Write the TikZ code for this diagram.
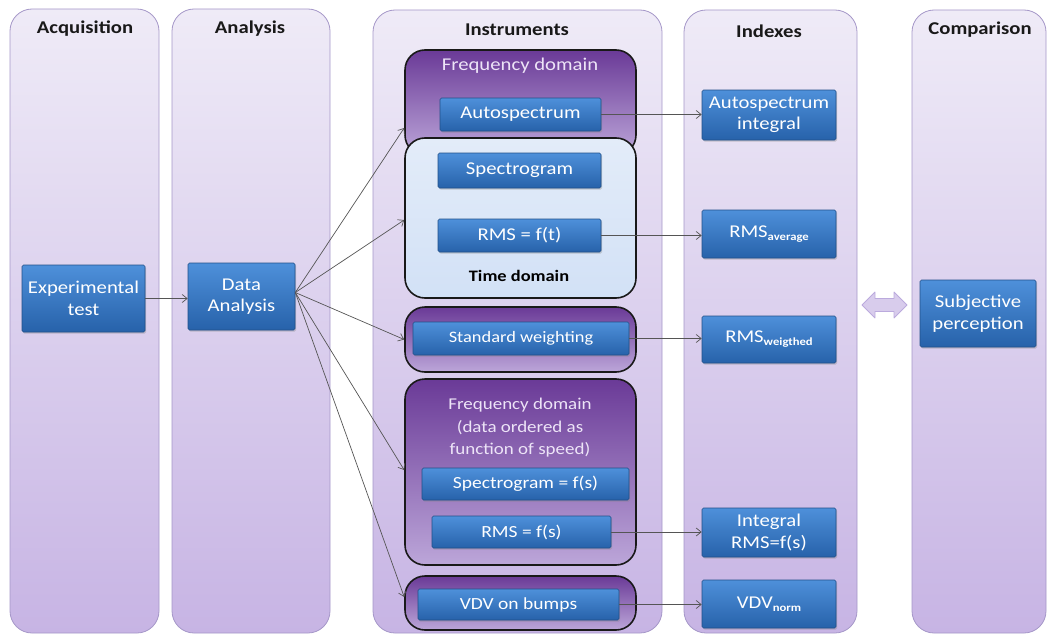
\documentclass[tikz,border=0pt]{standalone}
\usepackage{fontspec}
\setmainfont{Carlito}[FakeStretch=1.15]
\usetikzlibrary{arrows.meta,shadows}

\definecolor{laneTop}{HTML}{EFEBF7}
\definecolor{laneBot}{HTML}{C7B4E4}
\definecolor{laneLine}{HTML}{A597C8}
\definecolor{boxTop}{HTML}{4E90DA}
\definecolor{boxBot}{HTML}{2762AA}
\definecolor{boxLine}{HTML}{215089}
\definecolor{grpTop}{HTML}{6A3A97}
\definecolor{grpBot}{HTML}{BCA6D9}
\definecolor{tdTop}{HTML}{E3ECF9}
\definecolor{tdBot}{HTML}{D2E1F6}
\definecolor{lilac}{HTML}{EDE4F7}
\definecolor{wire}{HTML}{555555}
\definecolor{dblFill}{HTML}{D8CCEC}
\definecolor{dblLine}{HTML}{BBAADD}

\tikzset{
  fs/.style={font=\fontsize{#1}{21}\selectfont},
  lane/.style={draw=laneLine, line width=0.8pt, rounded corners=22pt,
    top color=laneTop, bottom color=laneBot, inner sep=0pt},
  lanehead/.style={font=\fontsize{18}{21}\selectfont\bfseries, text=black!90},
  bluebox/.style={draw=boxLine, line width=0.6pt, rounded corners=1.5pt,
    top color=boxTop, bottom color=boxBot, text=white, align=center,
    inner sep=1pt, font=\fontsize{18}{21.5}\selectfont,
    drop shadow={shadow xshift=1pt, shadow yshift=-1.5pt, opacity=0.35}},
  group/.style={draw=black!90, line width=1.6pt, rounded corners=20pt,
    top color=grpTop, bottom color=grpBot, inner sep=0pt},
  tgroup/.style={draw=black!90, line width=1.6pt, rounded corners=20pt,
    top color=tdTop, bottom color=tdBot, inner sep=0pt},
  link/.style={draw=wire, line width=0.7pt, -{Straight Barb[length=5pt,width=8pt]}},
}

\newcommand{\subtxt}[2]{#1{\fontsize{11}{11}\selectfont\bfseries\raisebox{-3pt}{#2}}}

\begin{document}
\begin{tikzpicture}[x=1pt, y=-1pt]
\useasboundingbox (0,0) rectangle (1049,634);

% swim lanes
\node[lane, minimum width=149pt, minimum height=624pt] (acq) at (84.5,321) {};
\node[lane, minimum width=158pt, minimum height=624pt] (ana) at (251,321) {};
\node[lane, minimum width=289pt, minimum height=623pt] (ins) at (517.5,321.5) {};
\node[lane, minimum width=173pt, minimum height=623pt] (idx) at (770.5,321.5) {};
\node[lane, minimum width=134pt, minimum height=623pt] (cmp) at (979,321.5) {};

\node[lanehead] (hacq) at (85,28.5) {Acquisition};
\node[lanehead] (hana) at (250,28.5) {Analysis};
\node[lanehead] (hins) at (517,29.5) {Instruments};
\node[lanehead] (hidx) at (769,31.5) {Indexes};
\node[lanehead] (hcmp) at (980,29.5) {Comparison};

% instrument groups
\node[group, minimum width=231pt, minimum height=105pt] (fd1) at (520.5,102.5) {};
\node[tgroup, minimum width=231pt, minimum height=160pt] (td) at (520.5,218) {};
\node[group, minimum width=231pt, minimum height=65pt] (swg) at (520.5,339.5) {};
\node[group, minimum width=231pt, minimum height=186pt] (fd2) at (520.5,472) {};
\node[group, minimum width=231pt, minimum height=54pt] (vdvg) at (520.5,603) {};

\node[text=lilac, fs=18] (fd1lab) at (520,66) {Frequency domain};
\node[font=\fontsize{16}{19}\selectfont\bfseries, text=black] (tdlab) at (519,276) {Time domain};
\node[text=lilac, align=center, font=\fontsize{16.5}{22.5}\selectfont] (fd2lab) at (520,428)
  {Frequency domain\\(data ordered as\\function of speed)};

% blue boxes
\node[bluebox, minimum width=123pt, minimum height=67pt] (exp) at (83.5,298.5) {Experimental\\test};
\node[bluebox, minimum width=107pt, minimum height=67pt] (da) at (241.5,296.5) {Data\\Analysis};

\node[bluebox, minimum width=161pt, minimum height=33pt] (auto) at (520.5,114.5) {Autospectrum};
\node[bluebox, minimum width=163pt, minimum height=35pt] (spec) at (519.5,170.5) {Spectrogram};
\node[bluebox, minimum width=163pt, minimum height=33pt] (rmst) at (519.5,235.5) {RMS = f(t)};
\node[bluebox, minimum width=216pt, minimum height=33pt, fs=16] (sw) at (521,338.5) {Standard weighting};
\node[bluebox, minimum width=207pt, minimum height=32pt, fs=17] (specs) at (525.5,484) {Spectrogram = f(s)};
\node[bluebox, minimum width=179pt, minimum height=32pt, fs=17] (rmss) at (521.5,532) {RMS = f(s)};
\node[bluebox, minimum width=201pt, minimum height=31pt, fs=17] (vdv) at (518.5,604.5) {VDV on bumps};

\node[bluebox, minimum width=134pt, minimum height=50pt] (aint) at (769,115) {Autospectrum\\integral};
\node[bluebox, minimum width=134pt, minimum height=48pt] (ravg) at (769,234) {\subtxt{RMS}{average}};
\node[bluebox, minimum width=134pt, minimum height=47pt] (rwgt) at (769,339.5) {\subtxt{RMS}{weigthed}};
\node[bluebox, minimum width=134pt, minimum height=49pt] (irms) at (769,532.5) {Integral\\RMS=f(s)};
\node[bluebox, minimum width=134pt, minimum height=48pt] (vnorm) at (769,604) {\subtxt{VDV}{norm}};

\node[bluebox, minimum width=116pt, minimum height=67pt] (subj) at (978,313.5) {Subjective\\perception};

% two-headed arrow between indexes and comparison
\filldraw[fill=dblFill, draw=dblLine, line width=0.8pt, line join=round]
  (862,305) -- (875,292) -- (875,298.5) -- (894,298.5) -- (894,292) -- (907,305)
  -- (894,318) -- (894,311.5) -- (875,311.5) -- (875,318) -- cycle;

% connectors
\draw[link] (exp.east) -- (exp.east -| da.west);
\draw[link] ([yshift=4pt]da.east) -- ([yshift=-25.5pt]fd1.west);
\draw[link] ([yshift=4pt]da.east) -- ([yshift=-2pt]td.west);
\draw[link] ([yshift=4pt]da.east) -- (swg.west);
\draw[link] ([yshift=4pt]da.east) -- ([yshift=2pt]fd2.west);
\draw[link] ([yshift=4pt]da.east) -- ([yshift=6pt]vdvg.west);

\draw[link] (auto.east) -- (auto.east -| aint.west);
\draw[link] (rmst.east) -- (rmst.east -| ravg.west);
\draw[link] (sw.east) -- (sw.east -| rwgt.west);
\draw[link] (rmss.east) -- (rmss.east -| irms.west);
\draw[link] (vdv.east) -- (vdv.east -| vnorm.west);
\end{tikzpicture}
\end{document}
